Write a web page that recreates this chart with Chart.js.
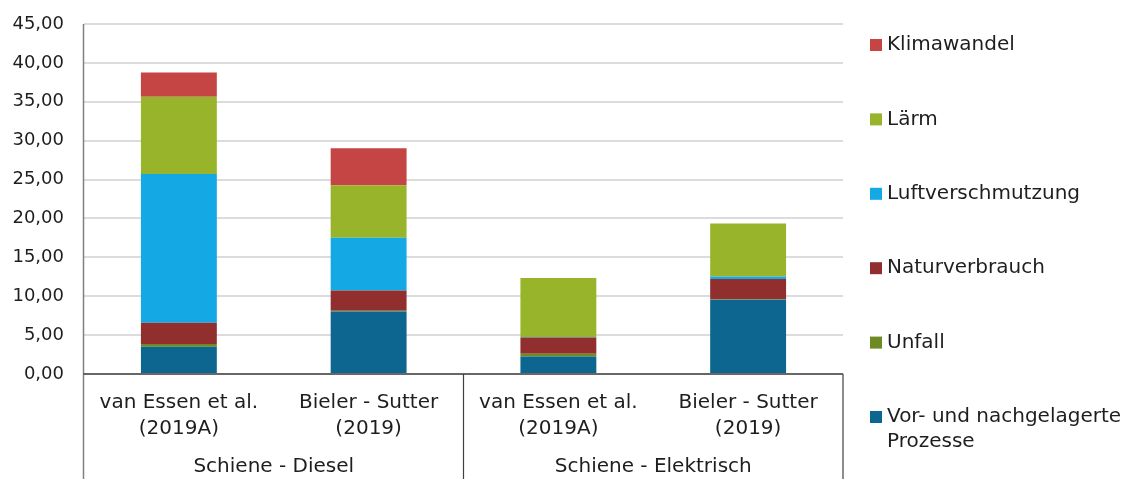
<!DOCTYPE html>
<html>
<head>
<meta charset="utf-8">
<script src="https://cdn.jsdelivr.net/npm/chart.js@4/dist/chart.umd.min.js"></script>
<style>
html,body{margin:0;padding:0;background:#fff;}
#wrap{width:1142px;height:479px;position:relative;}
</style>
</head>
<body>
<div id="wrap"><canvas id="c" width="1142" height="479"></canvas></div>
<script>
const categories = [['van Essen et al.', '(2019A)'], ['Bieler - Sutter', '(2019)'], ['van Essen et al.', '(2019A)'], ['Bieler - Sutter', '(2019)']];
const groups = ['Schiene - Diesel', 'Schiene - Elektrisch'];
const seriesNames = ['Vor- und nachgelagerte Prozesse', 'Unfall', 'Naturverbrauch', 'Luftverschmutzung', 'Lärm', 'Klimawandel'];
const vorNach = [3.50, 8.05, 2.25, 9.55];
const unfall = [0.35, 0.08, 0.35, 0.05];
const naturverbrauch = [2.75, 2.60, 2.10, 2.60];
const luftverschmutzung = [19.10, 6.80, 0.05, 0.35];
const laerm = [9.95, 6.75, 7.60, 6.80];
const klimawandel = [3.10, 4.75, 0.00, 0.00];
const yTicks = [0, 5, 10, 15, 20, 25, 30, 35, 40, 45];

const colors = ['#0D6690', '#6F8A22', '#912F2E', '#14A8E5', '#97B42A', '#C54444'];
const values = [vorNach, unfall, naturverbrauch, luftverschmutzung, laerm, klimawandel];
const FONT = '"DejaVu Sans", sans-serif';
const TXT = '#1e1e1e';

const datasets = seriesNames.map((n, i) => ({
  label: n, data: values[i], backgroundColor: colors[i],
  borderWidth: 0, barPercentage: 0.4, categoryPercentage: 1.0
}));

const decorPlugin = {
  id: 'decor',
  afterDraw(chart) {
    const ctx = chart.ctx;
    const x = chart.scales.x;
    const ca = chart.chartArea;
    ctx.save();
    ctx.strokeStyle = '#808080';
    ctx.lineWidth = 1.5;
    ctx.beginPath(); ctx.moveTo(83.5, ca.top); ctx.lineTo(83.5, 479); ctx.stroke();
    ctx.strokeStyle = '#404040';
    ctx.beginPath(); ctx.moveTo(83.5, ca.bottom); ctx.lineTo(ca.right, ca.bottom); ctx.stroke();
    ctx.lineWidth = 1.2;
    const mid = (x.getPixelForValue(1) + x.getPixelForValue(2)) / 2;
    [mid, ca.right].forEach(px => {
      ctx.beginPath(); ctx.moveTo(px, ca.bottom); ctx.lineTo(px, 479); ctx.stroke();
    });
    ctx.fillStyle = TXT;
    ctx.font = '20px ' + FONT;
    ctx.textAlign = 'center'; ctx.textBaseline = 'middle';
    const g1 = (x.getPixelForValue(0) + x.getPixelForValue(1)) / 2;
    const g2 = (x.getPixelForValue(2) + x.getPixelForValue(3)) / 2;
    ctx.fillText(groups[0], g1, 467);
    ctx.fillText(groups[1], g2, 467);
    ctx.textAlign = 'left';
    const order = [5, 4, 3, 2, 1, 0];
    order.forEach((si, k) => {
      const cy = 45 + k * 74.4;
      ctx.fillStyle = colors[si];
      ctx.fillRect(870, cy - 6, 12, 12);
      ctx.fillStyle = TXT;
      const name = seriesNames[si];
      if (si === 0) {
        ctx.fillText('Vor- und nachgelagerte', 887, cy);
        ctx.fillText('Prozesse', 887, cy + 25);
      } else {
        ctx.fillText(name, 887, cy);
      }
    });
    ctx.restore();
  }
};

new Chart(document.getElementById('c'), {
  type: 'bar',
  data: { labels: categories, datasets },
  options: {
    responsive: false, animation: false,
    layout: { padding: { left: 0, right: 299, top: 24, bottom: 0 } },
    plugins: { legend: { display: false }, tooltip: { enabled: false } },
    scales: {
      x: {
        stacked: true,
        grid: { display: false, drawTicks: false },
        border: { display: false },
        ticks: { color: TXT, font: { family: FONT, size: 20, lineHeight: 1.3 }, padding: 16, maxRotation: 0, autoSkip: false },
        afterFit(s) { s.height = 105; s.paddingLeft = 0; s.paddingRight = 0; }
      },
      y: {
        stacked: true, min: 0, max: 45,
        afterBuildTicks(s) { s.ticks = yTicks.map(v => ({ value: v })); },
        grid: { color: '#dcdcdc', lineWidth: 2, drawTicks: false },
        border: { display: false },
        ticks: { color: TXT, font: { family: FONT, size: 18 }, padding: 20,
          callback: v => Number(v).toFixed(2).replace('.', ',') },
        afterFit(s) { s.width = 84; s.paddingTop = 0; s.paddingBottom = 0; }
      }
    }
  },
  plugins: [decorPlugin]
});
</script>
</body>
</html>
